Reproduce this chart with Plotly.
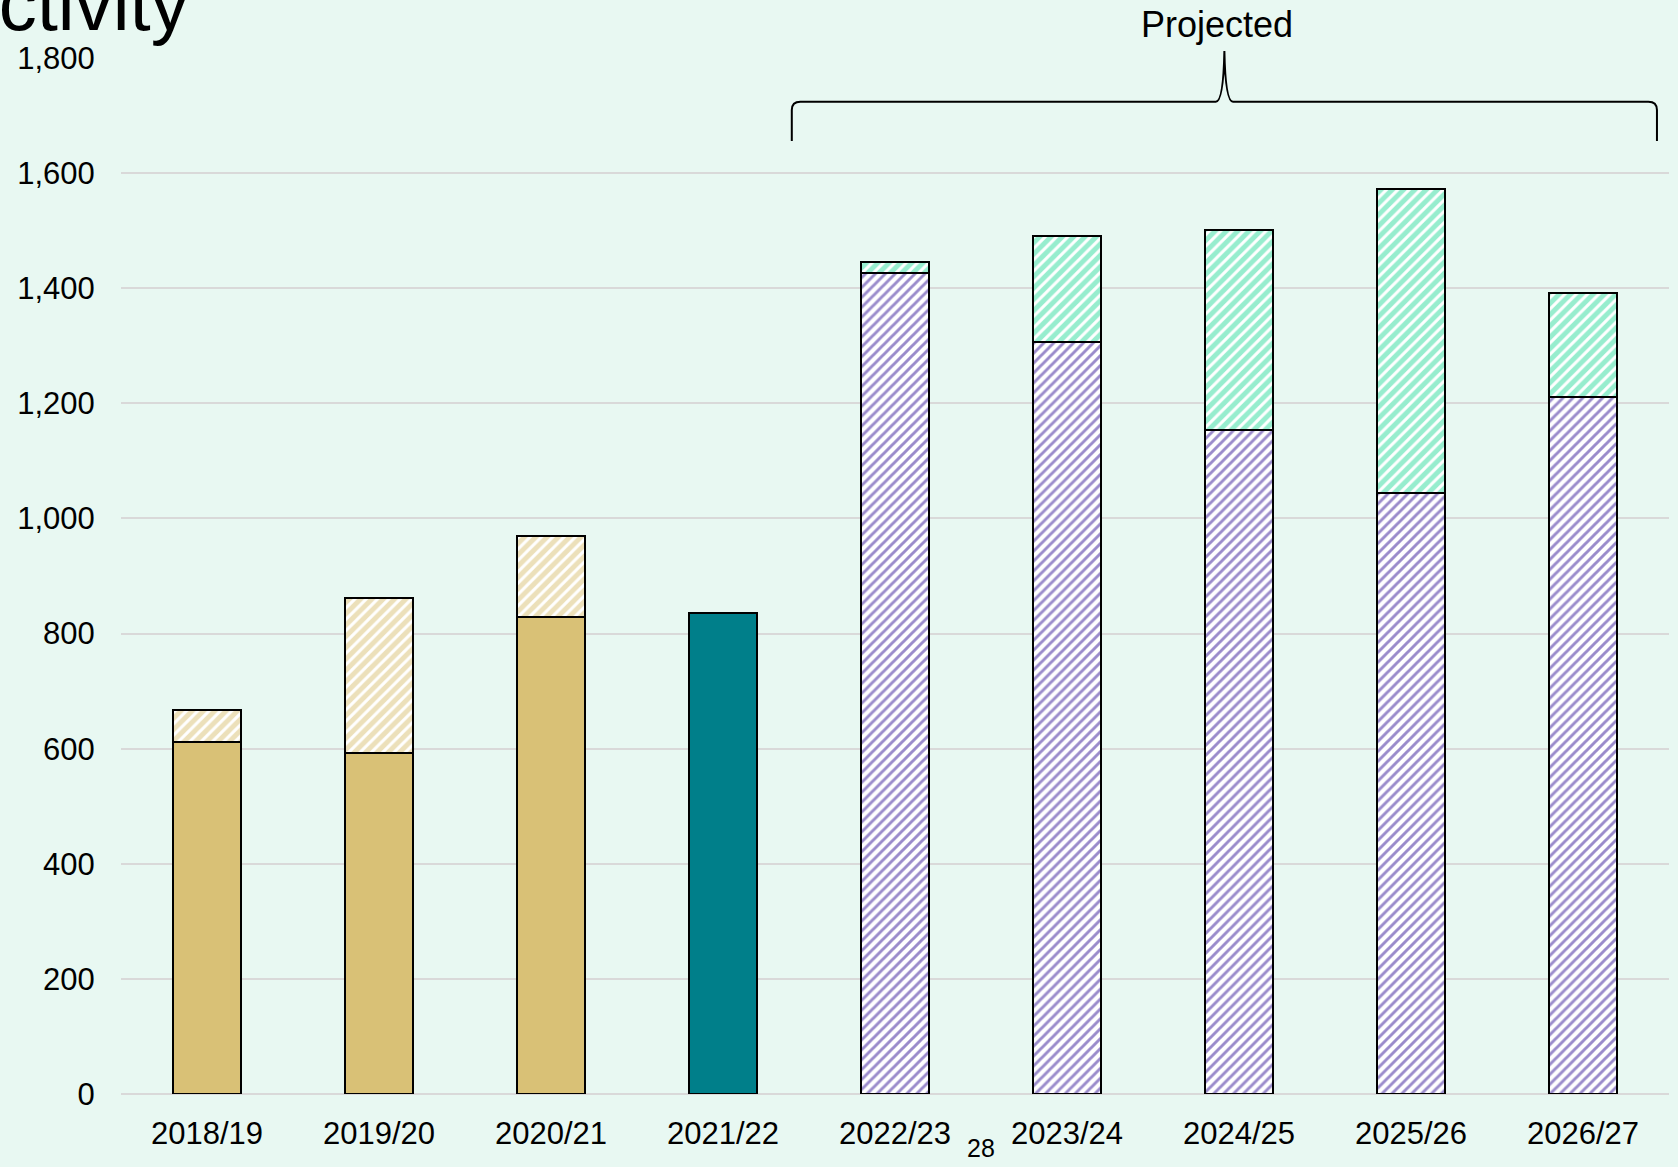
import plotly.graph_objects as go

categories = ["2018/19", "2019/20", "2020/21", "2021/22", "2022/23",
              "2023/24", "2024/25", "2025/26", "2026/27"]
# Outturn (tan) solid base and hatched addition
tan_base = [611, 593, 828, None, None, None, None, None, None]
tan_extra = [56, 269, 142, None, None, None, None, None, None]
# 2021/22 actual
teal_vals = [None, None, None, 836, None, None, None, None, None]
# Projected: purple base and green addition
purple_base = [None, None, None, None, 1427, 1306, 1154, 1044, 1211]
green_extra = [None, None, None, None, 18, 184, 347, 528, 180]

y_ticks = list(range(0, 1801, 200))

BG = "#E8F8F2"
TAN = "#D9C176"
TEAL = "#007F8A"
PURPLE = "#351898"
GREEN = "#2FDC9E"
FONT = "Liberation Sans, Arial, sans-serif"

xs = list(range(len(categories)))
line = dict(color="black", width=2)

fig = go.Figure()
fig.add_trace(go.Bar(x=xs, y=tan_base, marker=dict(color=TAN, line=line)))
fig.add_trace(go.Bar(x=xs, y=tan_extra, marker=dict(
    color="white", line=line,
    pattern=dict(shape="/", fgcolor=TAN, bgcolor="white", size=8, solidity=0.62, fillmode="overlay"))))
fig.add_trace(go.Bar(x=xs, y=teal_vals, marker=dict(color=TEAL, line=line)))
fig.add_trace(go.Bar(x=xs, y=purple_base, marker=dict(
    color="white", line=line,
    pattern=dict(shape="/", fgcolor=PURPLE, bgcolor="white", size=7, solidity=0.42, fillmode="overlay"))))
fig.add_trace(go.Bar(x=xs, y=green_extra, marker=dict(
    color="white", line=line,
    pattern=dict(shape="/", fgcolor=GREEN, bgcolor="white", size=8, solidity=0.62, fillmode="overlay"))))

fig.update_layout(
    width=1678, height=1167,
    margin=dict(l=121, r=9, t=58, b=73),
    paper_bgcolor=BG, plot_bgcolor=BG,
    barmode="stack", bargap=0.6,
    showlegend=False,
    font=dict(family=FONT, size=31, color="black"),
)
fig.update_xaxes(
    tickvals=xs, ticktext=categories, range=[-0.5, len(categories) - 0.5],
    showgrid=False, zeroline=False, showline=False,
    ticks="outside", ticklen=12, tickcolor=BG,
    tickfont=dict(size=31),
)
fig.update_yaxes(
    range=[0, 1800], tickvals=y_ticks, tickformat=",",
    showgrid=True, gridcolor="#D9D9D9", gridwidth=1.5,
    zeroline=True, zerolinecolor="#D9D9D9", zerolinewidth=1.5,
    showline=False, ticks="outside", ticklen=19, tickcolor=BG,
    tickfont=dict(size=31),
)

# Brace over projected years
L, R, T = 3.4, 8.43, 5.915
yb, yh, yt = 0.9199, 0.9578, 1.0068
dx, dy = 0.05, 0.008
path = (f"M {L},{yb} L {L},{yh-dy} Q {L},{yh} {L+dx},{yh} "
        f"L {T-dx},{yh} Q {T-0.006},{yh} {T},{yt} "
        f"Q {T+0.006},{yh} {T+dx},{yh} "
        f"L {R-dx},{yh} Q {R},{yh} {R},{yh-dy} L {R},{yb}")
fig.add_shape(type="path", path=path, xref="x", yref="paper",
              line=dict(color="black", width=2))

fig.add_annotation(text="Projected", x=5.87, xref="x", y=1.032, yref="paper",
                   showarrow=False, font=dict(size=36), xanchor="center", yanchor="middle")
fig.add_annotation(text="28", x=4.5, xref="x", y=-0.052, yref="paper",
                   showarrow=False, font=dict(size=25), xanchor="center", yanchor="middle")
fig.add_annotation(text="Activity", x=0.0455, xref="paper", y=1.01, yref="paper",
                   showarrow=False, font=dict(size=76), xanchor="right", yanchor="bottom")

fig.write_html("out.html")
